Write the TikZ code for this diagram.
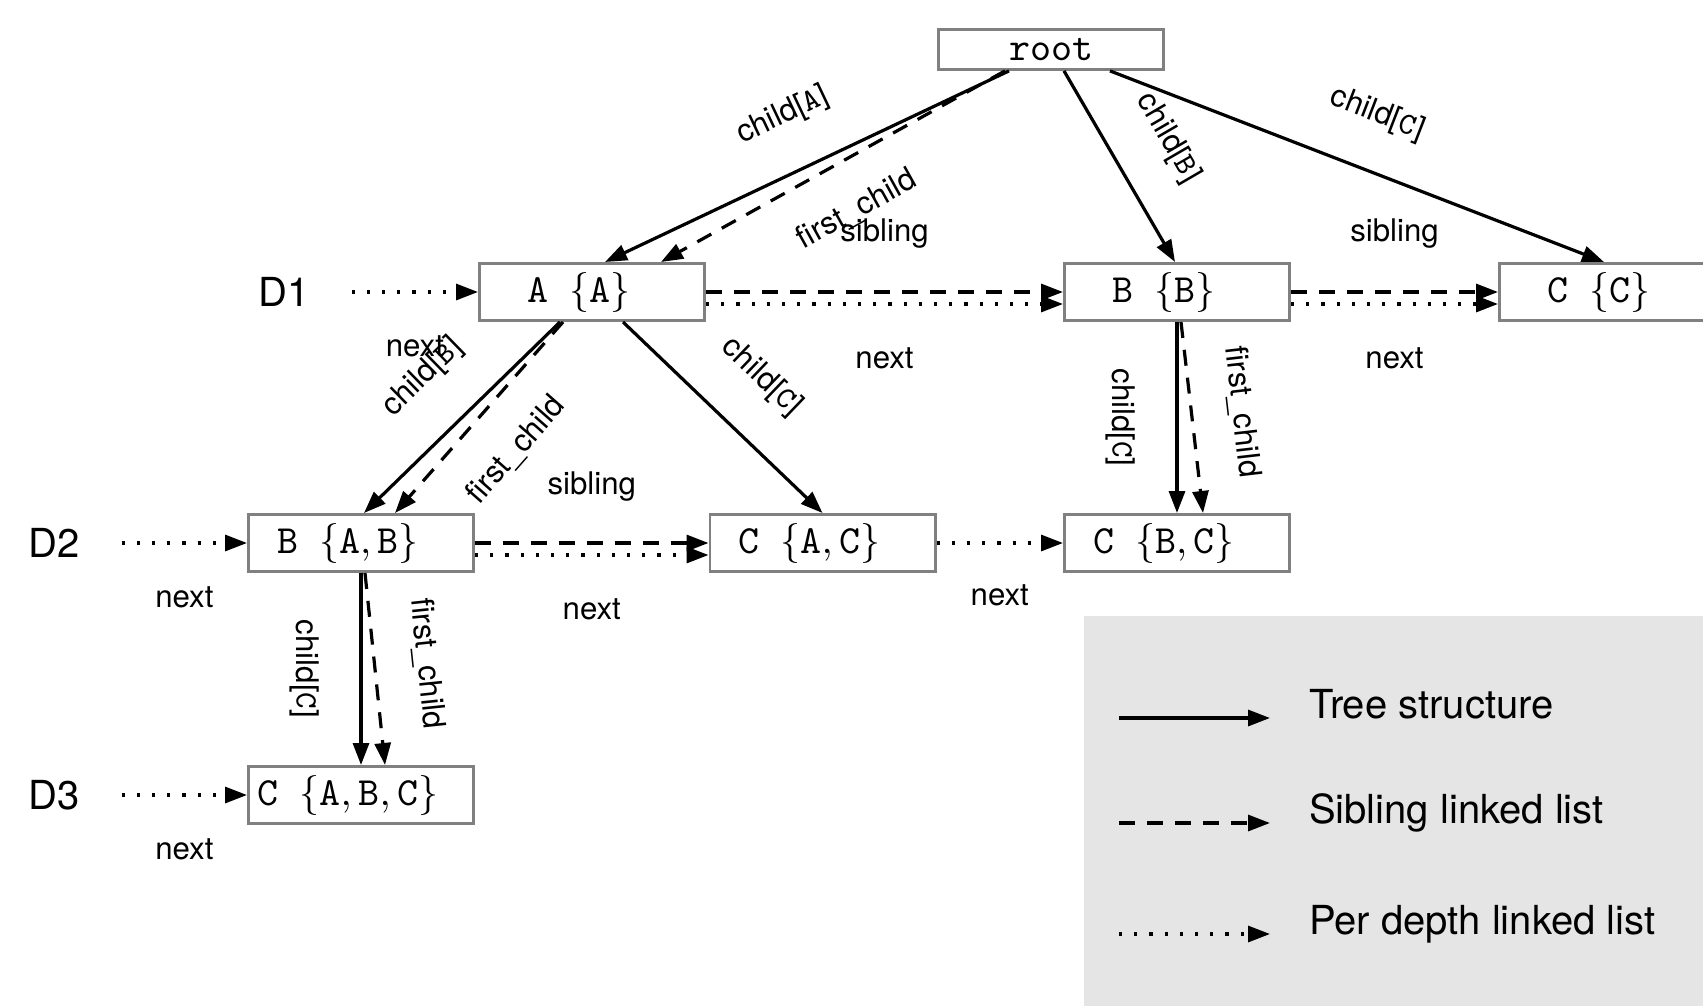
\documentclass[tikz,border=0pt]{standalone}
\usepackage{fontspec}
\setsansfont{TeX Gyre Heros}
\usetikzlibrary{arrows.meta}
\definecolor{legendgray}{gray}{0.9}
\definecolor{boxgray}{gray}{0.5}
\newcommand{\setlabel}[2]{#1 $\{\mathtt{#2}\}$\hspace*{6.5pt}}

\tikzset{
  >={Triangle[length=5.5pt,width=4pt]},
  setbox/.style={draw=boxgray, line width=0.7pt, minimum width=56.3pt,
                 minimum height=14.3pt, inner sep=0pt, font=\ttfamily},
  edgelbl/.style={font=\sffamily\fontsize{7.8pt}{9pt}\selectfont, inner sep=2pt},
  depthlbl/.style={font=\sffamily},
  treeedge/.style={->, line width=0.8pt},
  sibedge/.style={->, line width=0.8pt, dash pattern=on 4pt off 3pt},
  nextedge/.style={->, line width=0.8pt, dash pattern=on 0.8pt off 3pt},
}

\begin{document}
\begin{tikzpicture}[x=0.25pt, y=-0.25pt]
\useasboundingbox (0,0) rectangle (1703,1006);

% legend background
\fill[legendgray] (1084,616) rectangle (1720,1020);

% set nodes
\node[setbox, minimum height=10pt] (root) at (1051,49.5) {root};
\node[setbox] (A)   at (592,292)   {\setlabel{A}{A}};
\node[setbox] (B)   at (1177,292)  {\setlabel{B}{B}};
\node[setbox] (C)   at (1612,292)  {\setlabel{C}{C}};
\node[setbox] (AB)  at (361,543)   {\setlabel{B}{A,B}};
\node[setbox] (AC)  at (822.5,543) {\setlabel{C}{A,C}};
\node[setbox] (BC)  at (1177,543)  {\setlabel{C}{B,C}};
\node[setbox] (ABC) at (361,795)   {\setlabel{C}{A,B,C}};

% depth labels
\node[depthlbl] (D1) at (284,292) {D1};
\node[depthlbl] (D2) at (54,543)  {D2};
\node[depthlbl] (D3) at (54,795)  {D3};

% tree structure and first child
\draw[treeedge] ([xshift=-10.5pt]root.south) -- node[edgelbl, sloped, above=8pt] (rootA) {child[\texttt{A}]} ([xshift=3.25pt]A.north);
\draw[sibedge]  ([xshift=-11.5pt]root.south) -- node[edgelbl, sloped, below=6.5pt] (rootAf) {first\_child} ([xshift=17.25pt]A.north);
\draw[treeedge] ([xshift=3.25pt]root.south) -- node[edgelbl, sloped, above=8pt] (rootB) {child[\texttt{B}]} ([xshift=-0.5pt]B.north);
\draw[treeedge] ([xshift=14.75pt]root.south) -- node[edgelbl, sloped, above=8pt] (rootC) {child[\texttt{C}]} ([xshift=-2pt]C.north);

\draw[treeedge] ([xshift=-8pt]A.south) -- node[edgelbl, sloped, above=8pt] (AtoAB) {child[\texttt{B}]} ([xshift=0.75pt]AB.north);
\draw[sibedge]  ([xshift=-7.25pt]A.south) -- node[edgelbl, sloped, below=6.5pt] (AtoABf) {first\_child} ([xshift=8.5pt]AB.north);
\draw[treeedge] ([xshift=7.75pt]A.south) -- node[edgelbl, sloped, above=8pt] (AtoAC) {child[\texttt{C}]} (AC.north);

\draw[treeedge] (B.south) -- node[edgelbl, sloped, below=8pt] (BtoBC) {child[\texttt{C}]} (BC.north);
\draw[sibedge]  ([xshift=1pt]B.south) -- node[edgelbl, sloped, above=6.5pt] (BtoBCf) {first\_child} ([xshift=6.5pt]BC.north);

\draw[treeedge] (AB.south) -- node[edgelbl, sloped, below=8pt] (ABtoABC) {child[\texttt{C}]} (ABC.north);
\draw[sibedge]  ([xshift=1pt]AB.south) -- node[edgelbl, sloped, above=7pt] (ABtoABCf) {first\_child} ([xshift=6pt]ABC.north);

% sibling and per depth lists
\draw[sibedge]  (A) -- node[edgelbl, above=8.5pt] (sibAB) {sibling} (B);
\draw[nextedge] ([yshift=-3pt]A.east) -- node[edgelbl, below=8.5pt] (nextAB) {next} ([yshift=-3pt]B.west);
\draw[sibedge]  (B) -- node[edgelbl, above=8.5pt] (sibBC) {sibling} (C);
\draw[nextedge] ([yshift=-3pt]B.east) -- node[edgelbl, below=8.5pt] (nextBC) {next} ([yshift=-3pt]C.west);
\draw[sibedge]  (AB) -- node[edgelbl, above=8pt] (sibABAC) {sibling} (AC);
\draw[nextedge] ([yshift=-3pt]AB.east) -- node[edgelbl, below=8.5pt] (nextABAC) {next} ([yshift=-3pt]AC.west);
\draw[nextedge] (AC) -- node[edgelbl, below=8pt] (nextACBC) {next} (BC);

\draw[nextedge] ([xshift=7pt]D1.east) -- node[edgelbl, below=8.5pt] (nextD1) {next} (A);
\draw[nextedge] ([xshift=7pt]D2.east) -- node[edgelbl, below=8.5pt] (nextD2) {next} (AB);
\draw[nextedge] ([xshift=7pt]D3.east) -- node[edgelbl, below=8.5pt] (nextD3) {next} (ABC);

% legend
\node[depthlbl, anchor=base west] (lgtree) at (1295,718) {Tree structure};
\node[depthlbl, anchor=base west] (lgsib)  at (1295,823) {Sibling linked list};
\node[depthlbl, anchor=base west] (lgnext) at (1295,934) {Per depth linked list};
\coordinate (lgtreestart) at (1119,718);
\coordinate (lgsibstart)  at (1119,823);
\coordinate (lgnextstart) at (1119,934);
\draw[treeedge] (lgtreestart) -- ([xshift=-6.25pt]lgtree.base west);
\draw[sibedge]  (lgsibstart)  -- ([xshift=-6.25pt]lgsib.base west);
\draw[nextedge] (lgnextstart) -- ([xshift=-6.25pt]lgnext.base west);

\end{tikzpicture}
\end{document}
